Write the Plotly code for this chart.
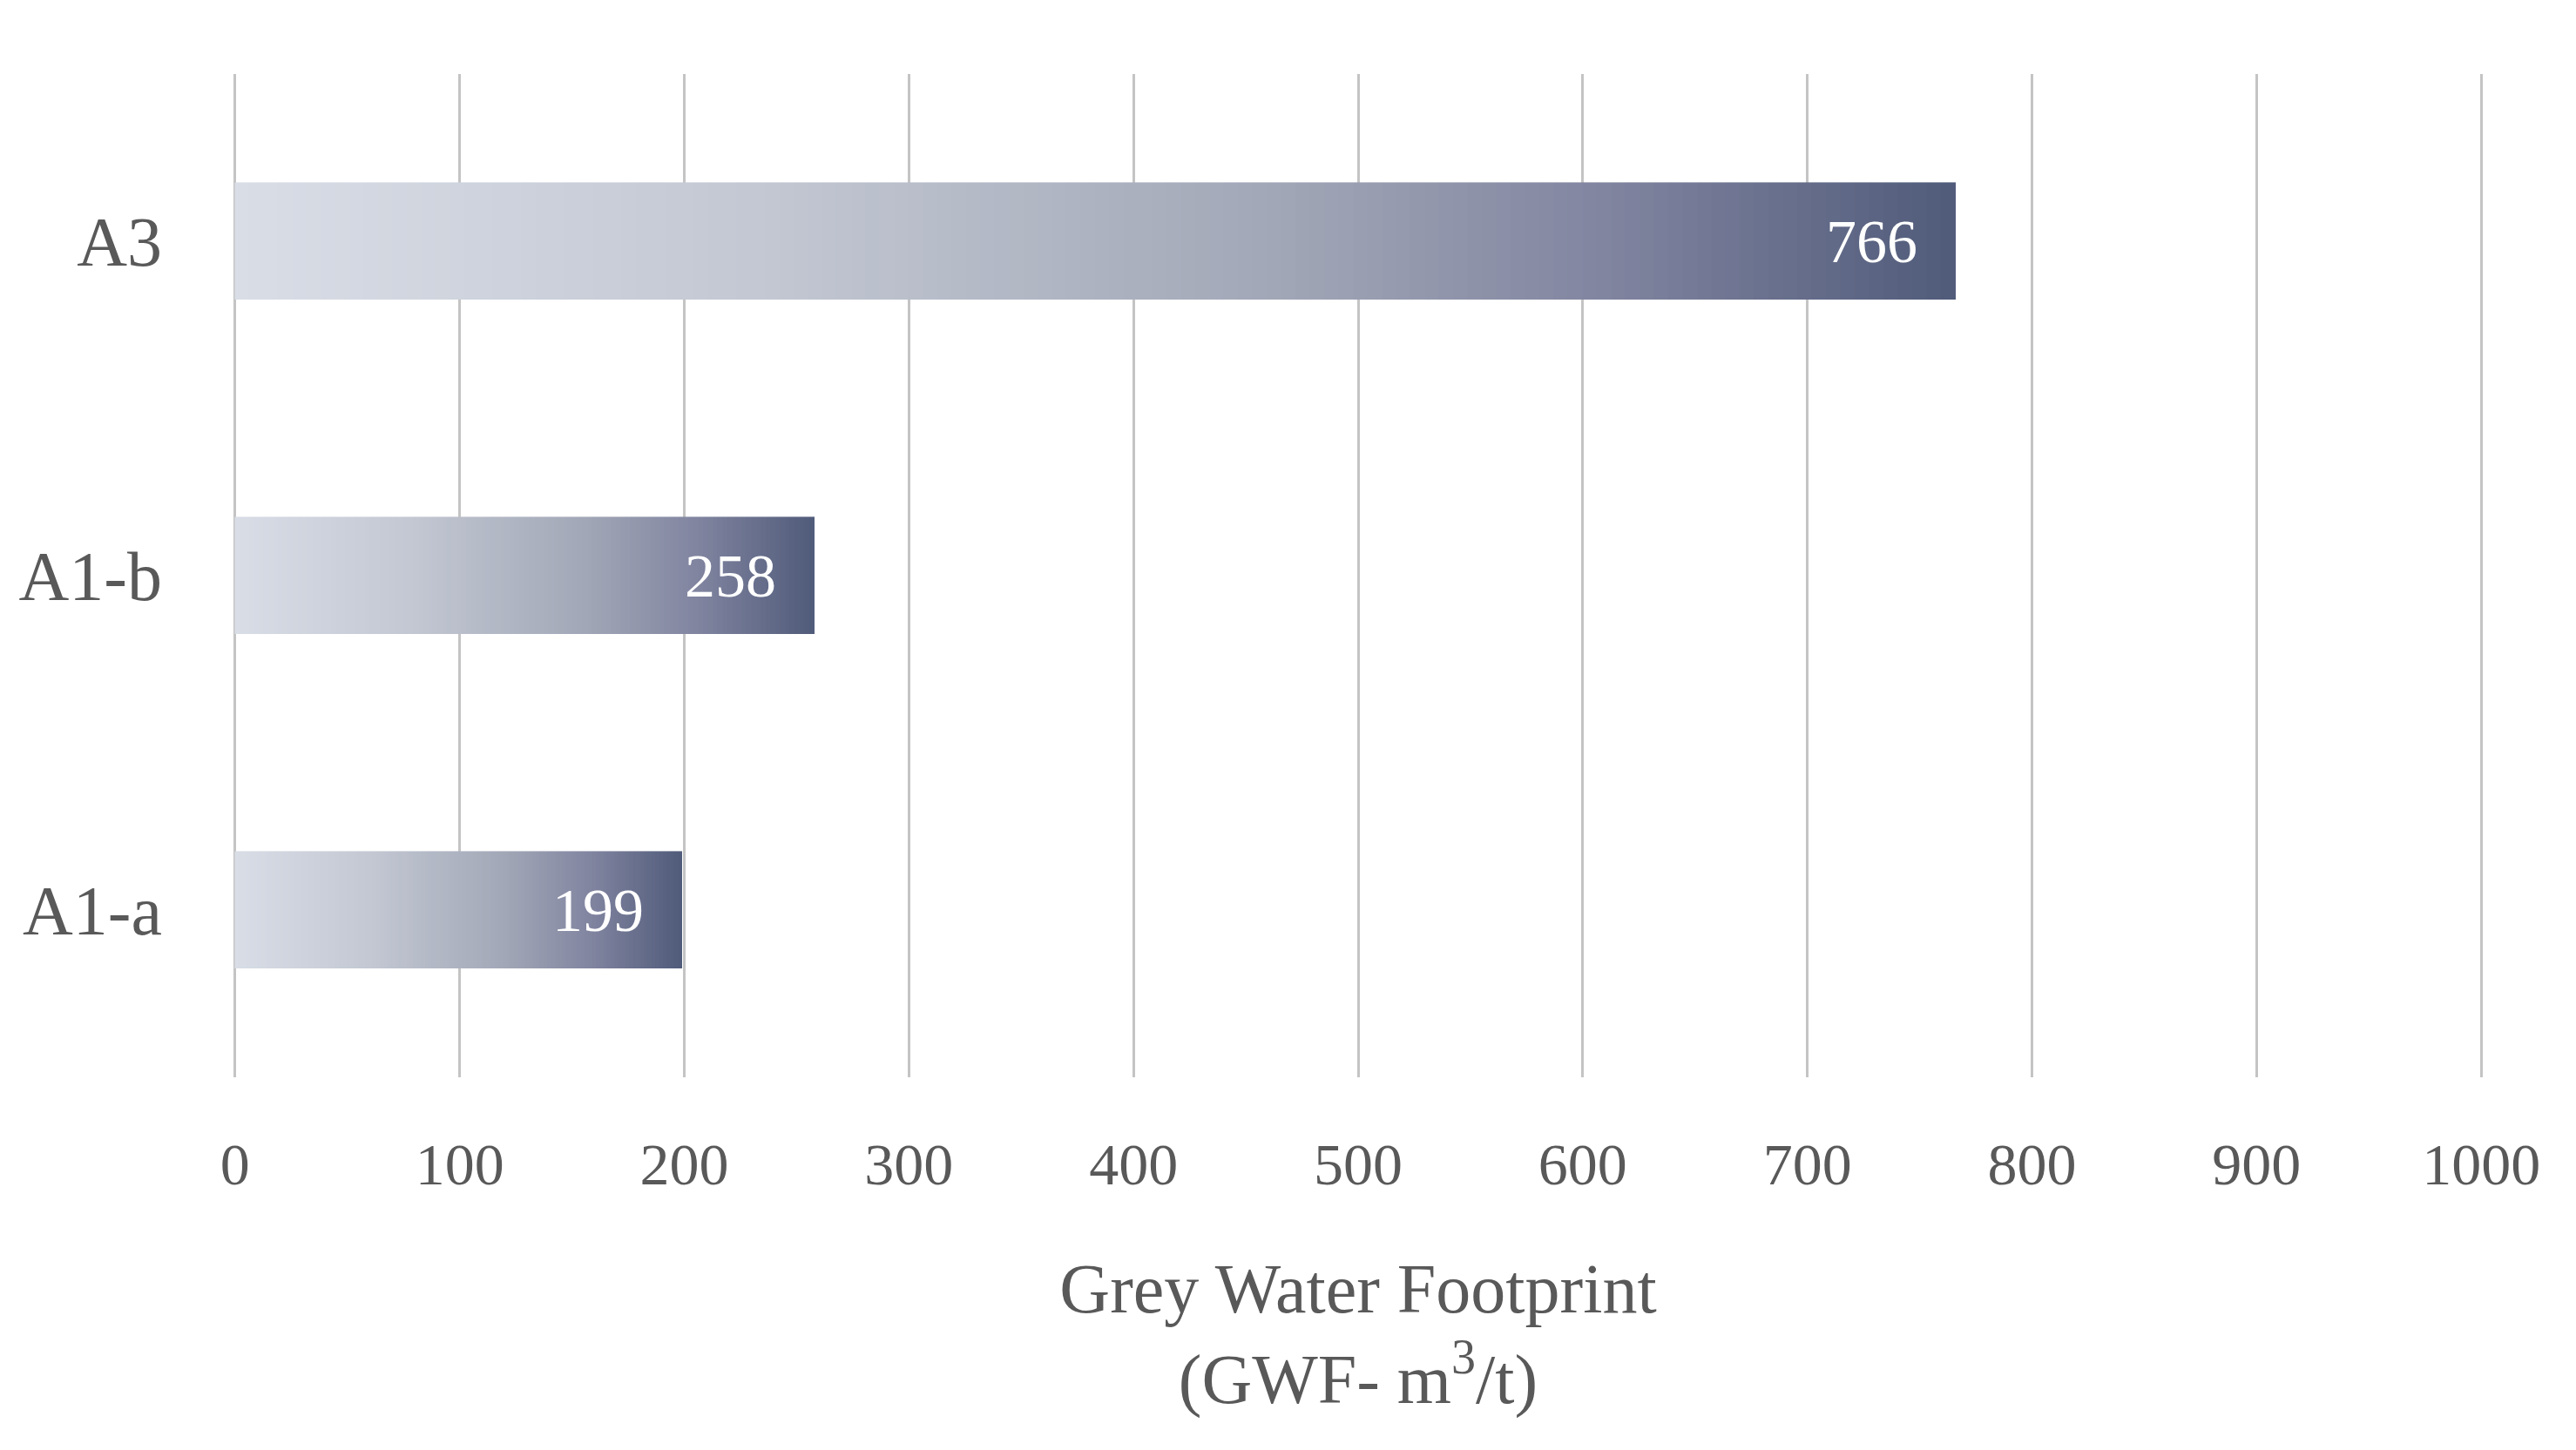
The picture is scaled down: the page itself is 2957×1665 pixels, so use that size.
import plotly.graph_objects as go
from plotly.colors import sample_colorscale

categories = ["A1-a", "A1-b", "A3"]
gwf_values = [199, 258, 766]
x_ticks = [0, 100, 200, 300, 400, 500, 600, 700, 800, 900, 1000]

FONT = "Palatino Linotype, Book Antiqua, Palatino, Liberation Serif, serif"
TEXT_COLOR = "#595959"
GRADIENT = [
    [0.0, "#d8dde6"],
    [0.3, "#c3c8d3"],
    [0.6, "#a3a8b8"],
    [0.8, "#80849f"],
    [1.0, "#505b7a"],
]
N_SEG = 120

fig = go.Figure()

# horizontal gradient: each bar is split into equal stacked slices
seg_colors = sample_colorscale(GRADIENT, [(k + 0.5) / N_SEG for k in range(N_SEG)])
for k, col in enumerate(seg_colors):
    fig.add_trace(go.Bar(
        y=categories,
        x=[v / N_SEG for v in gwf_values],
        orientation="h",
        width=0.35,
        marker=dict(color=col, line=dict(width=0.6, color=col)),
        showlegend=False,
        hoverinfo="skip",
    ))

for cat, v in zip(categories, gwf_values):
    fig.add_annotation(
        x=v, y=cat, text=str(v),
        xanchor="right", xshift=-42, showarrow=False,
        font=dict(family=FONT, size=70, color="white"),
    )

# page body adds an 8px margin, so the figure is a bit smaller than the window
fig.update_layout(
    barmode="stack",
    bargap=0,
    width=2941, height=1649,
    margin=dict(l=258, r=97, t=77, b=420),
    plot_bgcolor="white",
    paper_bgcolor="white",
    font=dict(family=FONT, color=TEXT_COLOR),
    xaxis=dict(
        range=[-1.5, 1001.5],
        tickvals=x_ticks,
        showgrid=True, gridcolor="#c4c4c4", gridwidth=3,
        zeroline=False, showline=False,
        tickfont=dict(size=68, color=TEXT_COLOR),
        ticklabelstandoff=54,
        title=dict(
            text="Grey Water Footprint<br>(GWF- m<sup>3</sup>/t)",
            font=dict(size=80, color=TEXT_COLOR),
            standoff=76,
        ),
        automargin=False,
    ),
    yaxis=dict(
        range=[-0.5, 2.5],
        showgrid=False, zeroline=False, showline=False,
        tickfont=dict(size=80, color=TEXT_COLOR),
        ticklabelstandoff=79,
        automargin=False,
    ),
)

fig.write_html("out.html")
